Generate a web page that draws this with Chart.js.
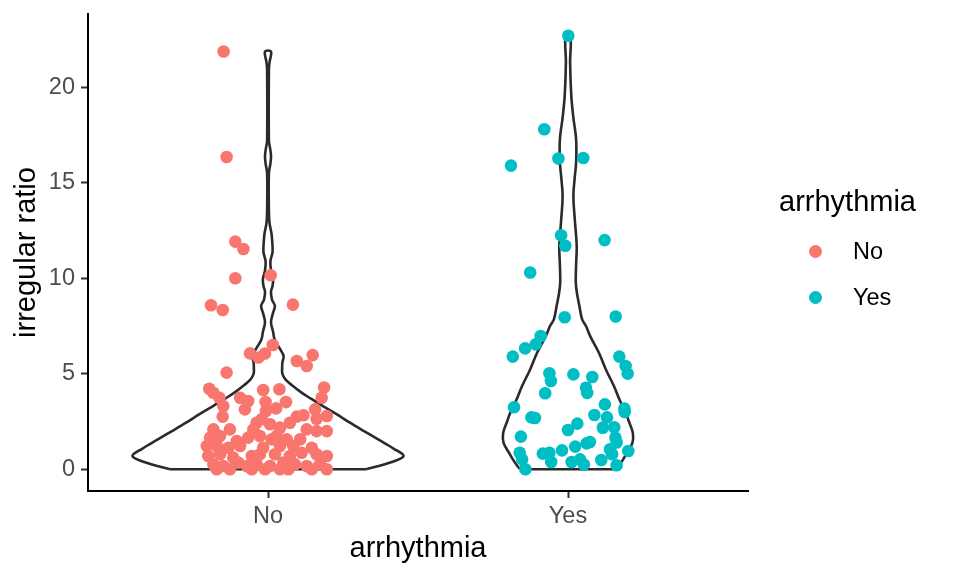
<!DOCTYPE html>
<html>
<head>
<meta charset="utf-8">
<script src="https://cdn.jsdelivr.net/npm/chart.js@4.4.1/dist/chart.umd.min.js"></script>
<style>
  body { margin: 0; background: #fff; }
  #wrap { position: relative; width: 960px; height: 576px; }
  #legend { position: absolute; left: 779px; top: 183px; font-family: "Liberation Sans", Arial, sans-serif; }
  #legend .title { font-size: 29px; color: #000; line-height: 36px; margin-bottom: 11px; }
  #legend .item { position: relative; height: 46px; font-size: 23.5px; color: #000; }
  #legend .dot { position: absolute; left: 30px; top: 15px; width: 13px; height: 13px; border-radius: 50%; }
  #legend .lab { position: absolute; left: 74px; top: 7px; line-height: 28px; }
</style>
</head>
<body>
<div id="wrap">
  <canvas id="myChart" width="960" height="576"></canvas>
  <div id="legend"></div>
</div>
<script>
const categories = ['No', 'Yes'];
const colours = ['#F8766D', '#00BFC4'];
const yTicks = [0, 5, 10, 15, 20];

// jittered points, x offset from category centre
const noJitter = [-0.148, -0.138, -0.109, -0.082, -0.109, 0.009, -0.19, -0.151, 0.083,
  0.016, -0.06, -0.01, -0.032, 0.096, 0.149, 0.129, -0.138,
  -0.196, -0.182, -0.016, 0.038, 0.187, 0.179, -0.162, -0.093, -0.066, -0.149, -0.008, 0.06,
  -0.077, -0.007, 0.027, 0.157, -0.151, -0.021, 0.096, 0.118, 0.162, 0.196,
  -0.038, 0.007, 0.073, -0.182, -0.127, -0.049, 0.04, 0.129, 0.162, 0.196,
  -0.193, -0.16, -0.104, -0.066, -0.027, 0.012, 0.029, 0.062, 0.107,
  -0.204, -0.171, -0.132, -0.093, -0.016, 0.04, 0.084, 0.146,
  -0.199, -0.16, -0.116, -0.054, -0.027, 0.023, 0.073, 0.112, 0.162, 0.196,
  -0.182, -0.149, -0.099, -0.071, -0.038, 0.007, 0.051, 0.09, 0.129, 0.173,
  -0.171, -0.127, -0.054, -0.01, 0.04, 0.068, 0.146, 0.196];
const noRatio = [21.87, 16.35, 11.92, 11.53, 10.0, 10.16, 8.59, 8.34, 8.62,
  6.51, 6.07, 6.06, 5.85, 5.67, 5.98, 5.41, 5.06,
  4.22, 4.01, 4.15, 4.19, 4.28, 3.75, 3.75, 3.75, 3.58, 3.31, 3.52, 3.52,
  3.14, 3.05, 3.19, 3.14, 2.76, 2.62, 2.76, 2.83, 2.65, 2.79,
  2.44, 2.36, 2.44, 2.09, 2.09, 2.09, 2.18, 2.09, 2.0, 2.0,
  1.66, 1.74, 1.48, 1.66, 1.74, 1.57, 1.74, 1.57, 1.57,
  1.22, 1.22, 1.13, 1.22, 1.13, 1.22, 1.22, 1.13,
  0.70, 0.79, 0.61, 0.70, 0.79, 0.79, 0.70, 0.87, 0.79, 0.70,
  0.26, 0.17, 0.35, 0.17, 0.26, 0.17, 0.35, 0.26, 0.17, 0.26,
  0, 0, 0, 0, 0, 0, 0, 0];

const yesJitter = [0.001, -0.079, -0.032, 0.051, -0.19, -0.023, -0.009, 0.122, -0.126, -0.011, 0.159,
  -0.091, -0.108, -0.143, -0.184, 0.171, 0.192, 0.199, -0.062, -0.057, 0.018, 0.081,
  0.06, 0.064, -0.076, -0.18, 0.123, 0.188, 0.189, -0.122, -0.11, 0.088, 0.13,
  0.031, 0, 0.116, 0.154, -0.157, 0.158, 0.162, 0.062, 0.073, 0.024, -0.02,
  -0.161, -0.084, -0.062, 0.14, 0.147, 0.201, -0.153, -0.056, 0.012, 0.04,
  0.053, 0.111, 0.162, -0.142];
const yesRatio = [22.7, 17.8, 16.27, 16.3, 15.9, 12.25, 11.7, 12.0, 10.3, 7.96, 8.0,
  6.98, 6.54, 6.33, 5.9, 5.9, 5.41, 5.01, 5.03, 4.62, 4.97, 4.83,
  4.27, 4.0, 3.98, 3.25, 3.4, 3.18, 3.0, 2.72, 2.69, 2.84, 2.72,
  2.39, 2.06, 2.18, 2.2, 1.71, 1.66, 1.4, 1.36, 1.43, 1.19, 0.99,
  0.87, 0.82, 0.87, 1.05, 0.79, 0.96, 0.52, 0.38, 0.38, 0.52,
  0.25, 0.49, 0.21, 0.0];

// violin density: half width (category units) at each ratio level
const noViolinY = [0, 0.37, 0.7, 1.1, 1.57, 2.0, 2.44, 2.9, 3.31, 3.7, 4.0, 4.4, 4.71, 5.0, 5.24, 5.6, 5.93,
  6.3, 6.8, 7.2, 7.7, 8.2, 8.55, 8.9, 9.3, 9.6, 9.95, 10.4, 10.9, 11.35, 11.7, 12.3, 12.9, 13.5,
  15.5, 16.0, 16.4, 16.8, 17.2, 20.9, 21.3, 21.87];
const noViolinHalf = [0.327, 0.41, 0.452, 0.417, 0.367, 0.32, 0.273, 0.227, 0.183, 0.143, 0.113, 0.08, 0.058, 0.048, 0.047, 0.048, 0.052,
  0.04, 0.022, 0.017, 0.01, 0.017, 0.023, 0.013, 0.01, 0.015, 0.017, 0.01, 0.008, 0.015, 0.015, 0.012, 0.005, 0.003,
  0.003, 0.008, 0.01, 0.007, 0.003, 0.003, 0.005, 0.01];
const yesViolinY = [0, 0.35, 0.87, 1.4, 1.92, 2.5, 2.97, 3.6, 4.36, 5.2, 6.1, 7.0, 7.5, 7.85, 8.55, 9.2, 9.77,
  10.7, 11.7, 13.0, 14.3, 15.2, 16.07, 17.28, 18.4, 19.55, 21.3, 22.7];
const yesViolinHalf = [0.16, 0.177, 0.197, 0.215, 0.216, 0.203, 0.192, 0.173, 0.153, 0.127, 0.103, 0.073, 0.06, 0.047, 0.038, 0.03, 0.026,
  0.027, 0.029, 0.023, 0.018, 0.022, 0.027, 0.027, 0.018, 0.011, 0.007, 0.008];

const fontFam = '"Liberation Sans", Arial, sans-serif';

function points(centre, jit, vals) {
  return vals.map((v, i) => ({ x: centre + jit[i], y: v }));
}

function violinSide(centre, ys, halfs) {
  let right = ys.map((y, i) => ({ x: centre + halfs[i], y: y }));
  let left = ys.map((y, i) => ({ x: centre - halfs[i], y: y })).reverse();
  return right.concat(left);
}

function violinBase(centre, ys, halfs) {
  return [{ x: centre - halfs[0], y: ys[0] }, { x: centre + halfs[0], y: ys[0] }];
}

const lineStyle = {
  showLine: true, pointRadius: 0, borderColor: '#2b2b2b', borderWidth: 2.6,
  backgroundColor: 'transparent', fill: false, order: 2
};

const datasets = [
  Object.assign({ data: violinSide(1, noViolinY, noViolinHalf), tension: 0.35 }, lineStyle),
  Object.assign({ data: violinBase(1, noViolinY, noViolinHalf), tension: 0 }, lineStyle),
  Object.assign({ data: violinSide(2, yesViolinY, yesViolinHalf), tension: 0.35 }, lineStyle),
  Object.assign({ data: violinBase(2, yesViolinY, yesViolinHalf), tension: 0 }, lineStyle),
  { label: categories[0], data: points(1, noJitter, noRatio), backgroundColor: colours[0],
    pointRadius: 6.3, pointBorderWidth: 0, order: 1 },
  { label: categories[1], data: points(2, yesJitter, yesRatio), backgroundColor: colours[1],
    pointRadius: 6.3, pointBorderWidth: 0, order: 1 }
];

var ctx = document.getElementById('myChart').getContext('2d');
var myChart = new Chart(ctx, {
  type: 'scatter',
  data: { datasets: datasets },
  options: {
    responsive: false,
    animation: false,
    devicePixelRatio: 1,
    layout: { padding: { top: 14, right: 212, left: 0, bottom: 0 } },
    plugins: { legend: { display: false }, tooltip: { enabled: false } },
    scales: {
      x: {
        type: 'linear', min: 0.4, max: 2.6,
        afterBuildTicks: (s) => { s.ticks = categories.map((c, i) => ({ value: i + 1 })); },
        afterFit: (s) => { s.height = 85; s.paddingLeft = 0; s.paddingRight = 0; },
        ticks: {
          callback: (v) => categories[v - 1],
          color: '#4D4D4D', font: { family: fontFam, size: 23.5 }, padding: 4
        },
        grid: { drawOnChartArea: false, tickLength: 7, tickColor: '#333333', tickWidth: 2 },
        border: { color: '#000', width: 2 },
        title: { display: true, text: 'arrhythmia', color: '#000',
          font: { family: fontFam, size: 29 }, padding: { top: 0, bottom: 10 } }
      },
      y: {
        min: -1.135, max: 23.835,
        afterBuildTicks: (s) => { s.ticks = yTicks.map(v => ({ value: v })); },
        afterFit: (s) => { s.width = 88; s.paddingTop = 0; s.paddingBottom = 0; },
        ticks: { color: '#4D4D4D', font: { family: fontFam, size: 23.5 }, padding: 6 },
        grid: { drawOnChartArea: false, tickLength: 7, tickColor: '#333333', tickWidth: 2 },
        border: { color: '#000', width: 2 },
        title: { display: true, text: 'irregular ratio', color: '#000',
          font: { family: fontFam, size: 29 }, padding: { top: 10, bottom: 0 } }
      }
    }
  }
});

// legend
let legend = document.getElementById('legend');
let title = document.createElement('div');
title.setAttribute('class', 'title');
title.textContent = 'arrhythmia';
legend.appendChild(title);
categories.forEach((c, i) => {
  let item = document.createElement('div');
  item.setAttribute('class', 'item');
  let dot = document.createElement('span');
  dot.setAttribute('class', 'dot');
  dot.style.background = colours[i];
  let lab = document.createElement('span');
  lab.setAttribute('class', 'lab');
  lab.textContent = c;
  item.appendChild(dot);
  item.appendChild(lab);
  legend.appendChild(item);
});
</script>
</body>
</html>
